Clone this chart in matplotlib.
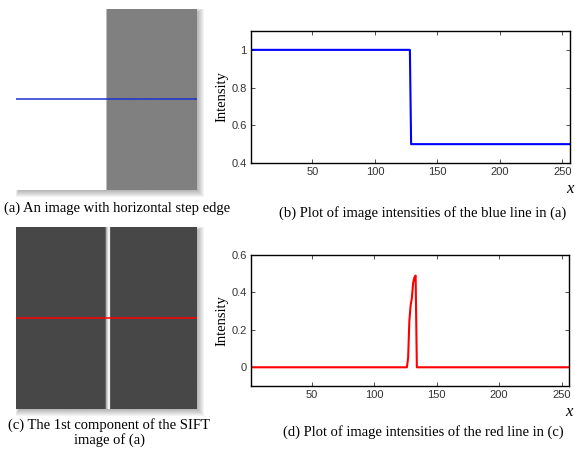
import numpy as np
import matplotlib
matplotlib.use("Agg")
import matplotlib.pyplot as plt
from matplotlib.patches import Rectangle

# blue line of (a): step edge
n_cols = 256
edge_col = 128
left_level = 1.0
right_level = 0.5

# red line of (c): zero except a narrow peak at the edge
peak_cols = [127, 128, 129, 130, 131, 132, 133]
peak_vals = [0.05, 0.25, 0.33, 0.37, 0.45, 0.48, 0.49]

x_ticks = [50, 100, 150, 200, 250]
b_yticks = [0.4, 0.6, 0.8, 1.0]
b_yticklabels = ["0.4", "0.6", "0.8", "1"]
d_yticks = [0, 0.2, 0.4, 0.6]
d_yticklabels = ["0", "0.2", "0.4", "0.6"]

captions = {
    "a": "(a) An image with horizontal step edge",
    "b": "(b) Plot of image intensities of the blue line in (a)",
    "c": "(c) The 1st component of the SIFT\nimage of (a)",
    "d": "(d) Plot of image intensities of the red line in (c)",
}

cols = np.arange(1, n_cols + 1)
blue_row = np.where(cols <= edge_col, left_level, right_level)
red_row = np.zeros(n_cols)
for c, v in zip(peak_cols, peak_vals):
    red_row[c - 1] = v

W, H = 575, 449
fig = plt.figure(figsize=(W / 100, H / 100), dpi=100)
serif = "Liberation Serif"


def box(x0, y0, x1, y1):
    # pixel box (top-left origin) -> figure rect
    return [x0 / W, (H - y1) / H, (x1 - x0) / W, (y1 - y0) / H]


def shadow(x0, y0, x1, y1):
    # soft drop shadow, bottom-right
    for i in range(1, 8):
        l, t = x0 + 3 - i * 0.5, y0 + 3 - i * 0.5
        r, b = x1 + i, y1 + i
        fig.patches.append(Rectangle((l / W, (H - b) / H), (r - l) / W, (b - t) / H,
                                     transform=fig.transFigure, color="black",
                                     alpha=0.045, lw=0, zorder=-5))


def image_panel(rect_px, row, vmin, vmax, line_color):
    shadow(*rect_px)
    ax = fig.add_axes(box(*rect_px))
    ax.set_zorder(2)
    img = np.tile(row, (n_cols, 1))
    ax.imshow(img, cmap="gray", vmin=vmin, vmax=vmax, aspect="auto",
              interpolation="bilinear", extent=(0.5, n_cols + 0.5, n_cols + 0.5, 0.5))
    ax.plot([0.5, n_cols + 0.5], [n_cols / 2, n_cols / 2], color=line_color, lw=1.1)
    ax.set_xlim(0.5, n_cols + 0.5)
    ax.set_ylim(n_cols + 0.5, 0.5)
    ax.axis("off")
    return ax


def line_panel(rect_px, row, color, ylim, yticks, yticklabels):
    ax = fig.add_axes(box(*rect_px))
    ax.plot(cols, row, color=color, lw=1.5)
    ax.set_xlim(1, n_cols)
    ax.set_ylim(*ylim)
    ax.set_xticks(x_ticks)
    ax.set_yticks(yticks)
    ax.set_yticklabels(yticklabels)
    ax.tick_params(direction="in", top=True, right=True, length=3, width=0.6,
                   labelsize=8, pad=3, colors="#333333", labelcolor="#333333")
    for lab in ax.get_xticklabels() + ax.get_yticklabels():
        lab.set_family("Liberation Sans")
    for s in ax.spines.values():
        s.set_linewidth(1.0)
    ax.set_ylabel("Intensity", family=serif, fontsize=10.5, labelpad=2)
    ax.text(1.0, -0.2, "x", transform=ax.transAxes, family=serif, style="italic",
            fontsize=12, ha="center", va="center")
    return ax


image_panel((16, 9, 197, 190), blue_row, 0, 1, "#1a33cc")
image_panel((16, 227, 197, 409), red_row, -0.19, 0.49, "#ff0000")

line_panel((251, 31, 570, 163), blue_row, "#0000ff", (0.4, 1.1),
           b_yticks, b_yticklabels)
line_panel((251, 255, 569, 386), red_row, "#ff0000", (-0.1, 0.6),
           d_yticks, d_yticklabels)


def cap(x, y, s):
    fig.text(x / W, 1 - y / H, s, family=serif, fontsize=10.5,
             ha="center", va="center", linespacing=1.1)


cap(117, 208, captions["a"])
cap(423, 213, captions["b"])
cap(109, 433, captions["c"])
cap(423, 432, captions["d"])

fig.savefig("out.png", dpi=100)
